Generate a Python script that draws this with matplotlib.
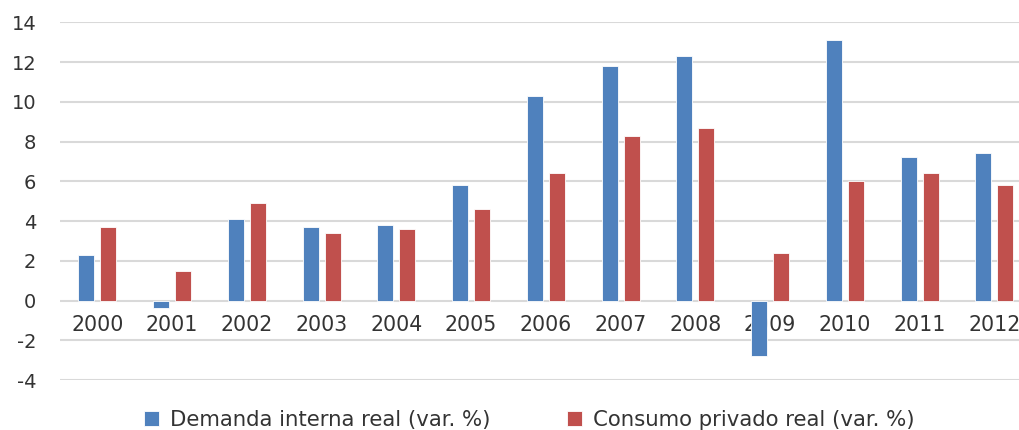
import matplotlib
matplotlib.use("Agg")
import matplotlib.pyplot as plt
import numpy as np

years = ["2000", "2001", "2002", "2003", "2004", "2005", "2006",
         "2007", "2008", "2009", "2010", "2011", "2012"]
demanda_interna = [2.3, -0.4, 4.1, 3.7, 3.8, 5.8, 10.3, 11.8, 12.3, -2.8, 13.1, 7.2, 7.4]
consumo_privado = [3.7, 1.5, 4.9, 3.4, 3.6, 4.6, 6.4, 8.3, 8.7, 2.4, 6.0, 6.4, 5.8]
y_ticks = [-4, -2, 0, 2, 4, 6, 8, 10, 12, 14]
series_labels = ["Demanda interna real (var. %)", "Consumo privado real (var. %)"]

BLUE = "#4F81BD"
RED = "#C0504D"
GRID = "#D9D9D9"
TEXT = "#333333"

plt.rcParams["font.family"] = ["DejaVu Sans"]

fig = plt.figure(figsize=(10.2, 4.3), dpi=100)
ax = fig.add_axes([60 / 1020, 50 / 430, 960 / 1020, 357.7 / 430])

x = np.arange(len(years))
bar_w = 0.214
offset = 0.147
ax.bar(x - offset, demanda_interna, width=bar_w, color=BLUE,
       edgecolor="white", linewidth=0.6, label=series_labels[0], zorder=3)
ax.bar(x + offset, consumo_privado, width=bar_w, color=RED,
       edgecolor="white", linewidth=0.6, label=series_labels[1], zorder=3)

ax.set_xlim(-0.5, -0.5 + 960 / 74.75)
ax.set_ylim(-4, 14)
ax.set_yticks(y_ticks)
ax.set_yticklabels([str(v) for v in y_ticks])
ax.set_xticks(x)
ax.set_xticklabels(years)

for s in ax.spines.values():
    s.set_visible(False)
ax.spines["bottom"].set_position(("data", 0))

ax.yaxis.grid(True, color=GRID, linewidth=1.5, zorder=0)
ax.set_axisbelow(True)
ax.tick_params(axis="y", length=0, pad=17, labelsize=14, labelcolor=TEXT)
ax.tick_params(axis="x", length=0, pad=10.5, labelsize=14.8, labelcolor=TEXT)

leg = fig.legend(loc="lower center", bbox_to_anchor=(0.519, -0.045), ncol=2,
                 frameon=False, fontsize=15.3, handlelength=0.72, handleheight=0.72,
                 handletextpad=0.5, columnspacing=3.6, labelcolor=TEXT)

fig.savefig("out.png", dpi=100)
